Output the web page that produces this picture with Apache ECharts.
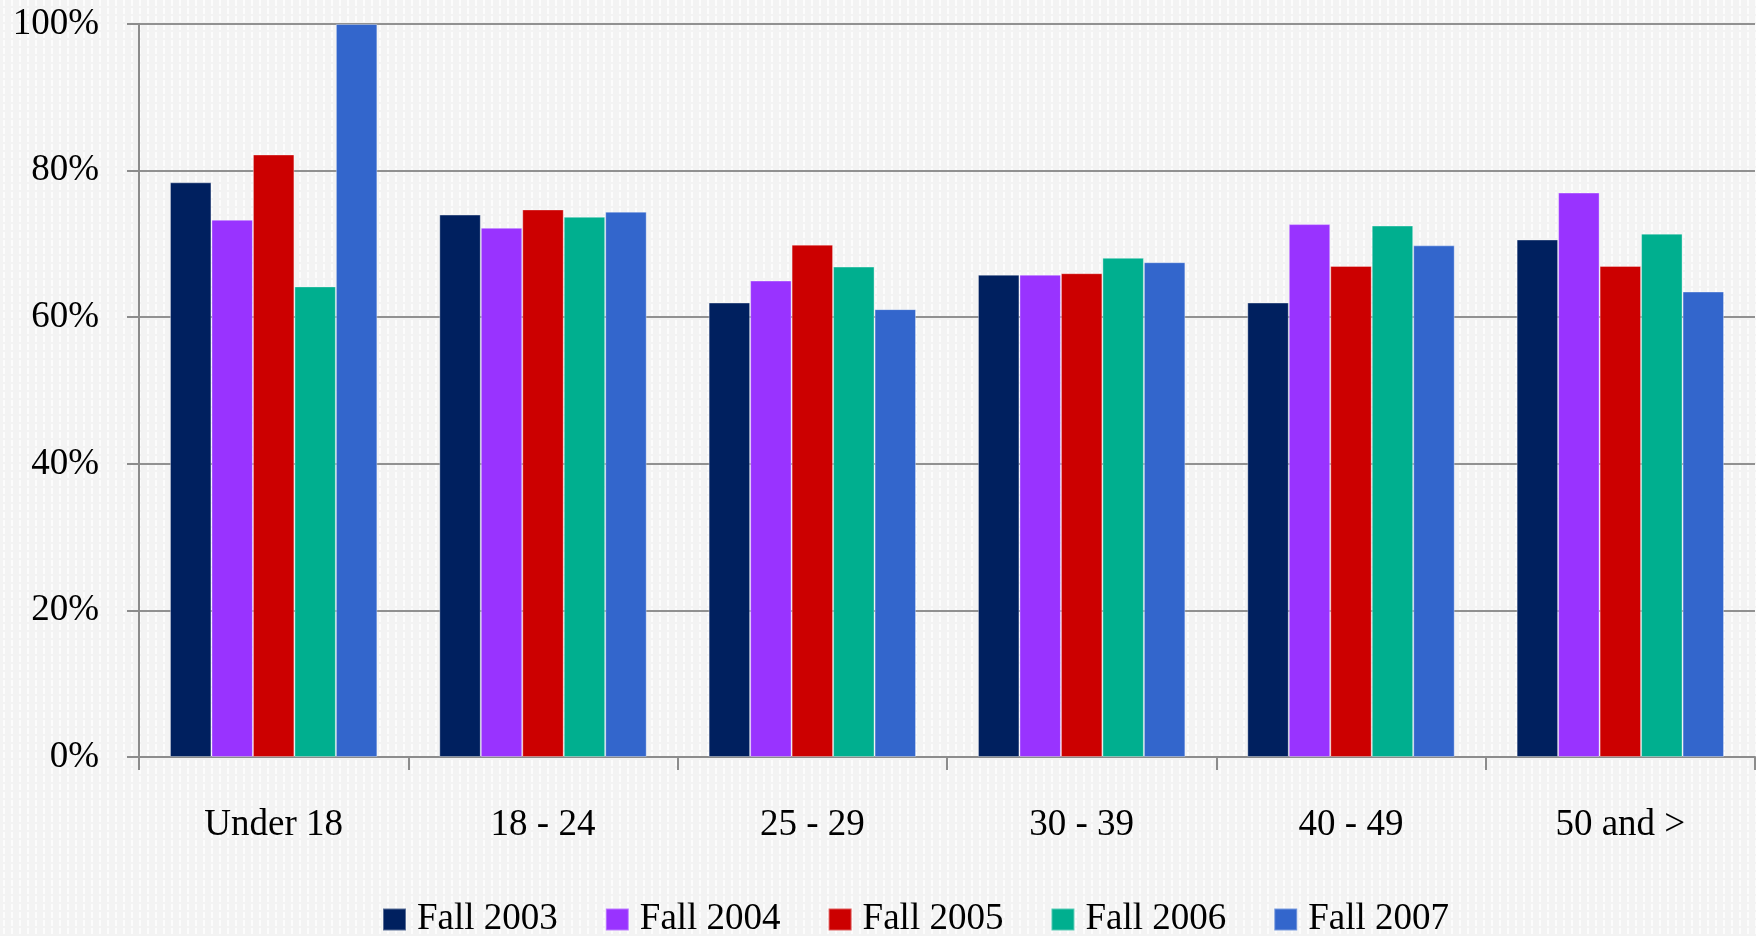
<!DOCTYPE html>
<html>
<head>
<meta charset="utf-8">
<title>Fall retention by age group</title>
<script src="https://cdn.jsdelivr.net/npm/echarts@6/dist/echarts.min.js"></script>
<style>
  html, body { margin: 0; padding: 0; }
  #chart { width: 1756px; height: 936px; }
</style>
</head>
<body>
<div id="chart"></div>
<script>
// categories
var ageGroups = ['Under 18', '18 - 24', '25 - 29', '30 - 39', '40 - 49', '50 and >'];
var yTicks = [0, 20, 40, 60, 80, 100];

// values (percent)
var fall2003 = [78.4, 74.0, 62.0, 65.8, 62.0, 70.6];
var fall2004 = [73.3, 72.2, 65.0, 65.8, 72.7, 77.0];
var fall2005 = [82.2, 74.7, 69.9, 66.0, 67.0, 67.0];
var fall2006 = [64.2, 73.7, 66.9, 68.1, 72.5, 71.4];
var fall2007 = [100, 74.4, 61.1, 67.5, 69.8, 63.5];

var seriesNames = ['Fall 2003', 'Fall 2004', 'Fall 2005', 'Fall 2006', 'Fall 2007'];
var seriesColors = ['#00205f', '#9933ff', '#cc0000', '#00af8f', '#3366cc'];
var seriesData = [fall2003, fall2004, fall2005, fall2006, fall2007];

// light grey background with faint white dashed stripes
var tile = document.createElement('canvas');
tile.width = 8;
tile.height = 8;
var ctx = tile.getContext('2d');
ctx.fillStyle = '#f3f3f3';
ctx.fillRect(0, 0, 8, 8);
ctx.fillStyle = '#fcfcfc';
ctx.fillRect(3, 0, 2, 6);

var chart = echarts.init(document.getElementById('chart'));

var series = [];
for (var i = 0; i < seriesNames.length; i++) {
    series.push({
        name: seriesNames[i],
        type: 'bar',
        data: seriesData[i],
        barGap: '0%',
        barCategoryGap: '23%',
        itemStyle: {
            color: seriesColors[i],
            borderColor: 'rgba(255,255,255,0.35)',
            borderWidth: 1
        }
    });
}

var font = '"Liberation Serif", "DejaVu Serif", serif';

var option = {
    backgroundColor: { image: tile, repeat: 'repeat' },
    animation: false,
    textStyle: { fontFamily: font },
    grid: {
        left: 139,
        right: 1,
        top: 24,
        bottom: 179,
        containLabel: false
    },
    legend: {
        data: seriesNames,
        left: 377,
        top: 896,
        itemWidth: 23,
        itemHeight: 22,
        itemGap: 47,
        icon: 'rect',
        textStyle: {
            fontFamily: font,
            fontSize: 37,
            color: '#000',
            padding: [0, 0, 0, 6]
        }
    },
    xAxis: {
        type: 'category',
        data: ageGroups,
        axisLine: { lineStyle: { color: '#8c8c8c', width: 2 } },
        axisTick: { show: true, length: 13, lineStyle: { color: '#8c8c8c', width: 2 } },
        axisLabel: {
            fontFamily: font,
            fontSize: 37,
            color: '#000',
            margin: 50
        }
    },
    yAxis: {
        type: 'value',
        min: yTicks[0],
        max: yTicks[yTicks.length - 1],
        interval: 20,
        axisLine: { show: true, lineStyle: { color: '#8c8c8c', width: 2 } },
        axisTick: { show: true, length: 12, lineStyle: { color: '#8c8c8c', width: 2 } },
        splitLine: { lineStyle: { color: '#919191', width: 2 } },
        axisLabel: {
            fontFamily: font,
            fontSize: 37,
            color: '#000',
            margin: 40,
            formatter: '{value}%'
        }
    },
    series: series
};

chart.setOption(option);
</script>
</body>
</html>
